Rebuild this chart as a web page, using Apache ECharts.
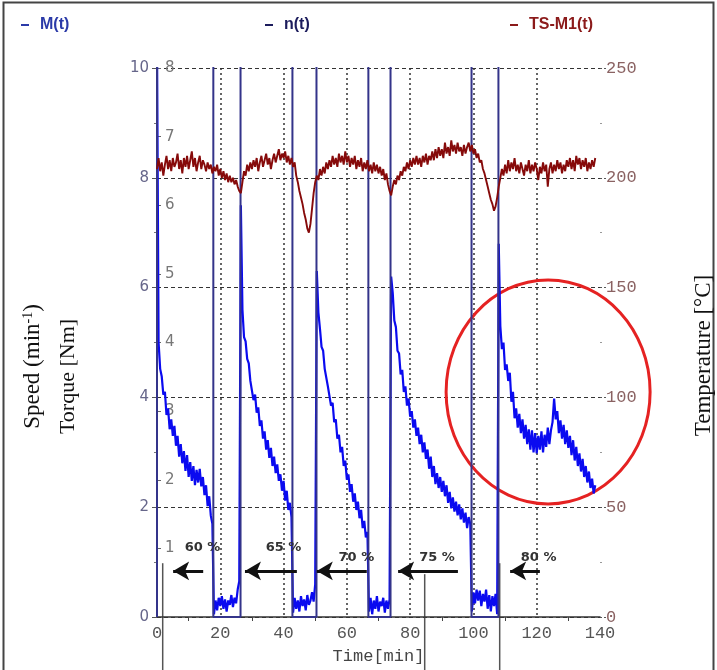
<!DOCTYPE html>
<html>
<head>
<meta charset="utf-8">
<title>Speed, torque and temperature</title>
<script src="https://cdn.jsdelivr.net/npm/echarts@6/dist/echarts.min.js"></script>
<style>
  html, body { margin: 0; padding: 0; background: #fff; }
  #chart { width: 717px; height: 670px; }
</style>
</head>
<body>
<div id="chart"></div>
<script>
// logged traces are sampled every half minute
const sampleStep = 0.5

// M(t) - one array per run / stop period (left axis units)
const torqueRun1 = [10.5, 5.0, 4.52, 4.38, 4.05, 4.1, 3.68, 3.8, 3.42, 3.6, 3.3, 3.48, 3.12, 3.3, 2.92, 3.15, 2.8, 3.02,
  2.66, 2.95, 2.55, 2.82, 2.48, 2.75, 2.4, 2.68, 2.45, 2.7, 2.38, 2.55, 2.22, 2.4, 2.02, 2.2, 1.85, 1.7]
const torqueStop1 = [0.05, 0.3, 0.12, 0.35, 0.2, 0.38, 0.15, 0.32, 0.1, 0.3, 0.22, 0.4, 0.18, 0.35, 0.25, 0.5, 0.65]
const torqueRun2 = [7.5, 5.6, 5.1, 5.02, 4.7, 4.62, 4.3, 4.28, 3.95, 4.05, 3.72, 3.82, 3.48, 3.58, 3.25, 3.38, 3.05,
  3.22, 2.9, 3.08, 2.75, 2.92, 2.62, 2.78, 2.48, 2.6, 2.3, 2.48, 2.12, 2.3, 1.95, 2.08, 1.82]
const torqueStop2 = [0.08, 0.35, 0.15, 0.3, 0.1, 0.38, 0.2, 0.32, 0.12, 0.4, 0.22, 0.3, 0.45, 0.28, 0.6]
const torqueRun3 = [6.3, 5.55, 5.25, 4.92, 4.85, 4.52, 4.5, 4.2, 4.2, 3.85, 3.9, 3.55, 3.6, 3.25, 3.32, 3.0, 3.1,
  2.75, 2.85, 2.5, 2.6, 2.28, 2.42, 2.1, 2.25, 1.95, 2.1, 1.8, 1.95, 1.62, 1.75, 1.45, 1.55]
const torqueStop3 = [0.1, 0.35, 0.05, 0.3, 0.15, 0.38, 0.1, 0.28, 0.2, 0.35, 0.08, 0.3, 0.15, 0.32]
const torqueRun4 = [6.2, 5.9, 5.4, 5.28, 4.85, 4.8, 4.42, 4.5, 4.1, 4.2, 3.85, 3.98, 3.65, 3.75, 3.45, 3.6, 3.3,
  3.45, 3.15, 3.32, 3.0, 3.18, 2.88, 3.05, 2.7, 2.92, 2.55, 2.75, 2.42, 2.62, 2.35, 2.55, 2.28, 2.48, 2.2, 2.4,
  2.08, 2.28, 1.98, 2.18, 1.92, 2.1, 1.85, 2.05, 1.78, 1.98, 1.72, 1.9, 1.62, 1.82, 1.7]
const torqueStop4 = [0.1, 0.45, 0.25, 0.5, 0.3, 0.48, 0.2, 0.42, 0.28, 0.5, 0.15, 0.4, 0.1, 0.38, 0.2, 0.42, 0.05]
const torqueRun5 = [6.8, 5.3, 4.88, 5.0, 4.5, 4.6, 4.3, 4.45, 3.92, 4.1, 3.62, 3.8, 3.45, 3.7, 3.35, 3.6, 3.25,
  3.5, 3.15, 3.42, 3.05, 3.4, 3.0, 3.35, 2.98, 3.3, 3.05, 3.38, 3.0, 3.32, 3.1, 3.45, 3.15, 3.4, 3.55, 3.98, 3.6,
  3.75, 3.35, 3.58, 3.25, 3.5, 3.15, 3.4, 3.08, 3.3, 2.95, 3.22, 2.85, 3.1, 2.75, 2.98, 2.65, 2.88, 2.55, 2.75,
  2.45, 2.65, 2.35, 2.52, 2.25, 2.4]

// n(t) - switching instants [min] and level per interval (12 = off scale, 0 = stopped)
const speedSwitchTimes = [0, 17.8, 26.4, 42.8, 50.4, 66.8, 73.8, 99.4, 107.9, 140]
const speedLevels = [12, 0, 12, 0, 12, 0, 12, 0, 12]

// TS-M1(t) temperature [°C], one row per 10 minutes
const temp000 = [204, 209, 203, 207, 201, 206, 210, 204, 208, 203, 209, 205, 207, 211, 204, 208, 202, 209, 205, 210]
const temp010 = [204, 208, 212, 205, 209, 203, 207, 210, 204, 208, 206, 203, 207, 204, 206, 202, 205, 203, 206, 201]
const temp020 = [204, 200, 203, 199, 202, 198, 201, 198, 200, 197, 199, 196, 194, 193, 198, 203, 201, 206, 203, 207]
const temp030 = [204, 208, 205, 209, 203, 207, 210, 205, 208, 211, 206, 209, 204, 208, 211, 207, 210, 213, 208, 211]
const temp040 = [209, 212, 207, 210, 206, 209, 205, 207, 201, 198, 194, 191, 188, 184, 181, 177, 175, 179, 186, 193]
const temp050 = [198, 201, 199, 204, 201, 205, 202, 207, 204, 208, 205, 210, 206, 209, 205, 211, 207, 210, 206, 212]
const temp060 = [207, 210, 205, 209, 206, 210, 204, 208, 205, 209, 203, 207, 204, 208, 203, 206, 202, 207, 203, 206]
const temp070 = [202, 205, 201, 204, 199, 202, 197, 194, 192, 196, 199, 197, 201, 199, 203, 201, 205, 203, 207, 204]
const temp080 = [208, 205, 209, 206, 210, 206, 209, 205, 210, 207, 211, 206, 210, 208, 212, 208, 213, 209, 214, 210]
const temp090 = [213, 209, 216, 211, 214, 210, 217, 212, 215, 211, 216, 212, 214, 210, 215, 211, 214, 216, 212, 215]
const temp100 = [211, 213, 209, 211, 207, 208, 204, 202, 199, 196, 193, 190, 188, 185, 187, 191, 196, 200, 204, 201]
const temp110 = [206, 202, 208, 203, 207, 204, 209, 203, 206, 202, 207, 204, 201, 206, 203, 208, 202, 206, 203, 207]
const temp120 = [204, 199, 205, 202, 207, 203, 206, 196, 204, 207, 202, 206, 203, 208, 204, 207, 202, 206, 203, 208]
const temp130 = [205, 209, 204, 208, 203, 210, 206, 209, 204, 208, 205, 209, 203, 207, 204, 208, 205, 209]

// load steps: label, arrow tail / head [min]
const loadLabels = ['60 %', '65 %', '70 %', '75 %', '80 %']
const loadLabelTimes = [14.4, 40, 63, 88.5, 120.6]
const loadLabelLevels = [1.26, 1.26, 1.09, 1.09, 1.09]
const arrowTails = [14.6, 44.2, 66.3, 95.1, 121]
const arrowHeads = [5.1, 27.8, 50.5, 76.2, 111.6]
const arrowLevel = 0.84

const torqueValues = [].concat(torqueRun1, torqueStop1, torqueRun2, torqueStop2, torqueRun3,
  torqueStop3, torqueRun4, torqueStop4, torqueRun5)
const tempValues = [].concat(temp000, temp010, temp020, temp030, temp040, temp050, temp060,
  temp070, temp080, temp090, temp100, temp110, temp120, temp130)

const torqueData = torqueValues.map((v, i) => [i * sampleStep, v])
const tempData = tempValues.map((v, i) => [i * sampleStep, v])

const speedData = [[0, 0]]
for (let i = 0; i < speedLevels.length; i++) {
  speedData.push([speedSwitchTimes[i], speedLevels[i]], [speedSwitchTimes[i + 1], speedLevels[i]])
}

const legendText = { fontFamily: 'Liberation Sans', fontSize: 16, fontWeight: 'bold', padding: [0, 0, 0, 6] }
const legendBase = { top: 12, icon: 'rect', itemWidth: 8, itemHeight: 2, selectedMode: false }
const titleStyle = { fontFamily: 'Liberation Serif', fontSize: 22, color: '#111' }

const option = {
  animation: false,
  backgroundColor: '#fff',
  legend: [
    { ...legendBase, left: 16, data: ['M(t)'], textStyle: { ...legendText, color: '#2b3aa8' } },
    { ...legendBase, left: 260, data: ['n(t)'], textStyle: { ...legendText, color: '#1c1c5c' } },
    { ...legendBase, left: 505, data: ['TS-M1(t)'], textStyle: { ...legendText, color: '#8b1a1a' } }
  ],
  grid: { left: 157, right: 117, top: 68, bottom: 53, outerBoundsMode: 'none' },
  xAxis: {
    type: 'value',
    min: 0,
    max: 140,
    interval: 20,
    name: 'Time[min]',
    nameLocation: 'middle',
    nameGap: 31,
    nameTextStyle: { fontFamily: 'Liberation Mono', fontSize: 17, color: '#444' },
    axisLine: { onZero: false, lineStyle: { color: '#333', width: 1.5 } },
    axisTick: { show: false },
    minorTick: { show: true, splitNumber: 2, length: 4, lineStyle: { color: '#444' } },
    axisLabel: { fontFamily: 'Liberation Mono', fontSize: 17, color: '#555', margin: 8 },
    splitLine: {
      show: true,
      showMinLine: false,
      showMaxLine: false,
      lineStyle: { type: [2, 3], color: '#333', width: 1.5 }
    }
  },
  yAxis: [
    {
      type: 'value',
      min: 0,
      max: 10,
      interval: 2,
      position: 'left',
      name: 'Speed (min{sup|-1})',
      nameLocation: 'middle',
      nameGap: 112,
      nameRotate: 90,
      nameTextStyle: {
        ...titleStyle,
        fontSize: 23,
        padding: [0, 48, 0, 0],
        rich: { sup: { fontFamily: 'Liberation Serif', fontSize: 14, color: '#111', padding: [0, 0, 10, 0] } }
      },
      axisLine: { show: true, onZero: false, lineStyle: { color: '#2b2b7b', width: 2 } },
      axisTick: { show: true, length: 5, lineStyle: { color: '#555' } },
      minorTick: { show: true, splitNumber: 2, length: 3, lineStyle: { color: '#777' } },
      axisLabel: { fontFamily: 'DejaVu Sans', fontSize: 15, color: '#66668a', margin: 8 },
      splitLine: { show: true, lineStyle: { type: [4, 3], color: '#333' } }
    },
    {
      type: 'value',
      min: 0,
      max: 8,
      interval: 1,
      position: 'left',
      name: 'Torque [Nm]',
      nameLocation: 'middle',
      nameGap: 78,
      nameRotate: 90,
      nameTextStyle: { ...titleStyle, padding: [0, 68, 0, 0] },
      axisLine: { show: false },
      axisTick: { show: true, inside: true, length: 4, lineStyle: { color: '#666' } },
      axisLabel: {
        inside: true, margin: 8, showMinLabel: false,
        fontFamily: 'DejaVu Sans', fontSize: 15, color: '#777'
      },
      splitLine: { show: false }
    },
    {
      type: 'value',
      min: 0,
      max: 250,
      interval: 50,
      position: 'right',
      name: 'Temperature [°C]',
      nameLocation: 'middle',
      nameGap: 92,
      nameRotate: 90,
      nameTextStyle: { ...titleStyle, fontSize: 23, padding: [0, 26, 0, 0] },
      axisLine: { show: false },
      axisTick: { show: true, length: 6, lineStyle: { color: '#555', type: [2, 2] } },
      minorTick: { show: true, splitNumber: 2, length: 2, lineStyle: { color: '#999' } },
      axisLabel: { fontFamily: 'Liberation Mono', fontSize: 17, color: '#8a6262', margin: 6 },
      splitLine: { show: false }
    }
  ],
  series: [
    {
      name: 'M(t)',
      type: 'line',
      yAxisIndex: 0,
      data: torqueData,
      symbol: 'none',
      itemStyle: { color: '#2b3aa8' },
      lineStyle: { color: '#0a0af0', width: 2.2 },
      markLine: {
        silent: true,
        symbol: ['none', 'arrow'],
        symbolSize: [14, 16],
        label: { show: false },
        lineStyle: { color: '#111', width: 3, type: 'solid' },
        data: arrowTails.map((t, i) => [{ coord: [t, arrowLevel] }, { coord: [arrowHeads[i], arrowLevel] }])
      },
      markPoint: {
        silent: true,
        symbol: 'rect',
        symbolSize: 1,
        itemStyle: { color: 'transparent' },
        label: {
          show: true,
          formatter: p => p.name,
          fontFamily: 'DejaVu Sans',
          fontSize: 13,
          fontWeight: 'bold',
          color: '#333'
        },
        data: loadLabels.map((name, i) => ({ name, coord: [loadLabelTimes[i], loadLabelLevels[i]] }))
      }
    },
    {
      name: 'n(t)',
      type: 'line',
      yAxisIndex: 0,
      data: speedData,
      symbol: 'none',
      itemStyle: { color: '#1c1c5c' },
      lineStyle: { color: '#34348a', width: 2 }
    },
    {
      name: 'TS-M1(t)',
      type: 'line',
      yAxisIndex: 2,
      data: tempData,
      symbol: 'none',
      itemStyle: { color: '#8b1a1a' },
      lineStyle: { color: '#860a0a', width: 1.9 }
    }
  ]
}

const chart = echarts.init(document.getElementById('chart'))
chart.setOption(option)

// overlay: highlight circle and leftover guide lines, placed from data coordinates
const toPx = p => chart.convertToPixel({ xAxisIndex: 0, yAxisIndex: 0 }, p)
const circleCenter = toPx([123.6, 4.1])
const guides = [[1.8, 0.98], [84.6, 0.78], [108.3, 0.98]].map(([t, s]) => {
  const a = toPx([t, s])
  return {
    type: 'line',
    silent: true,
    shape: { x1: a[0], y1: a[1], x2: a[0], y2: 670 },
    style: { stroke: '#555', lineWidth: 1.5 }
  }
})

chart.setOption({
  graphic: [
    {
      type: 'polyline',
      silent: true,
      shape: { points: [[3.5, 700], [3.5, 2.5], [713.5, 2.5], [713.5, 700]] },
      style: { stroke: '#444', lineWidth: 2, fill: null }
    },
    {
      type: 'ellipse',
      silent: true,
      shape: { cx: circleCenter[0], cy: circleCenter[1], rx: 102, ry: 112 },
      style: { stroke: '#e52222', lineWidth: 3, fill: null }
    },
    ...guides
  ]
})

window.addEventListener('resize', () => chart.resize())
</script>
</body>
</html>
